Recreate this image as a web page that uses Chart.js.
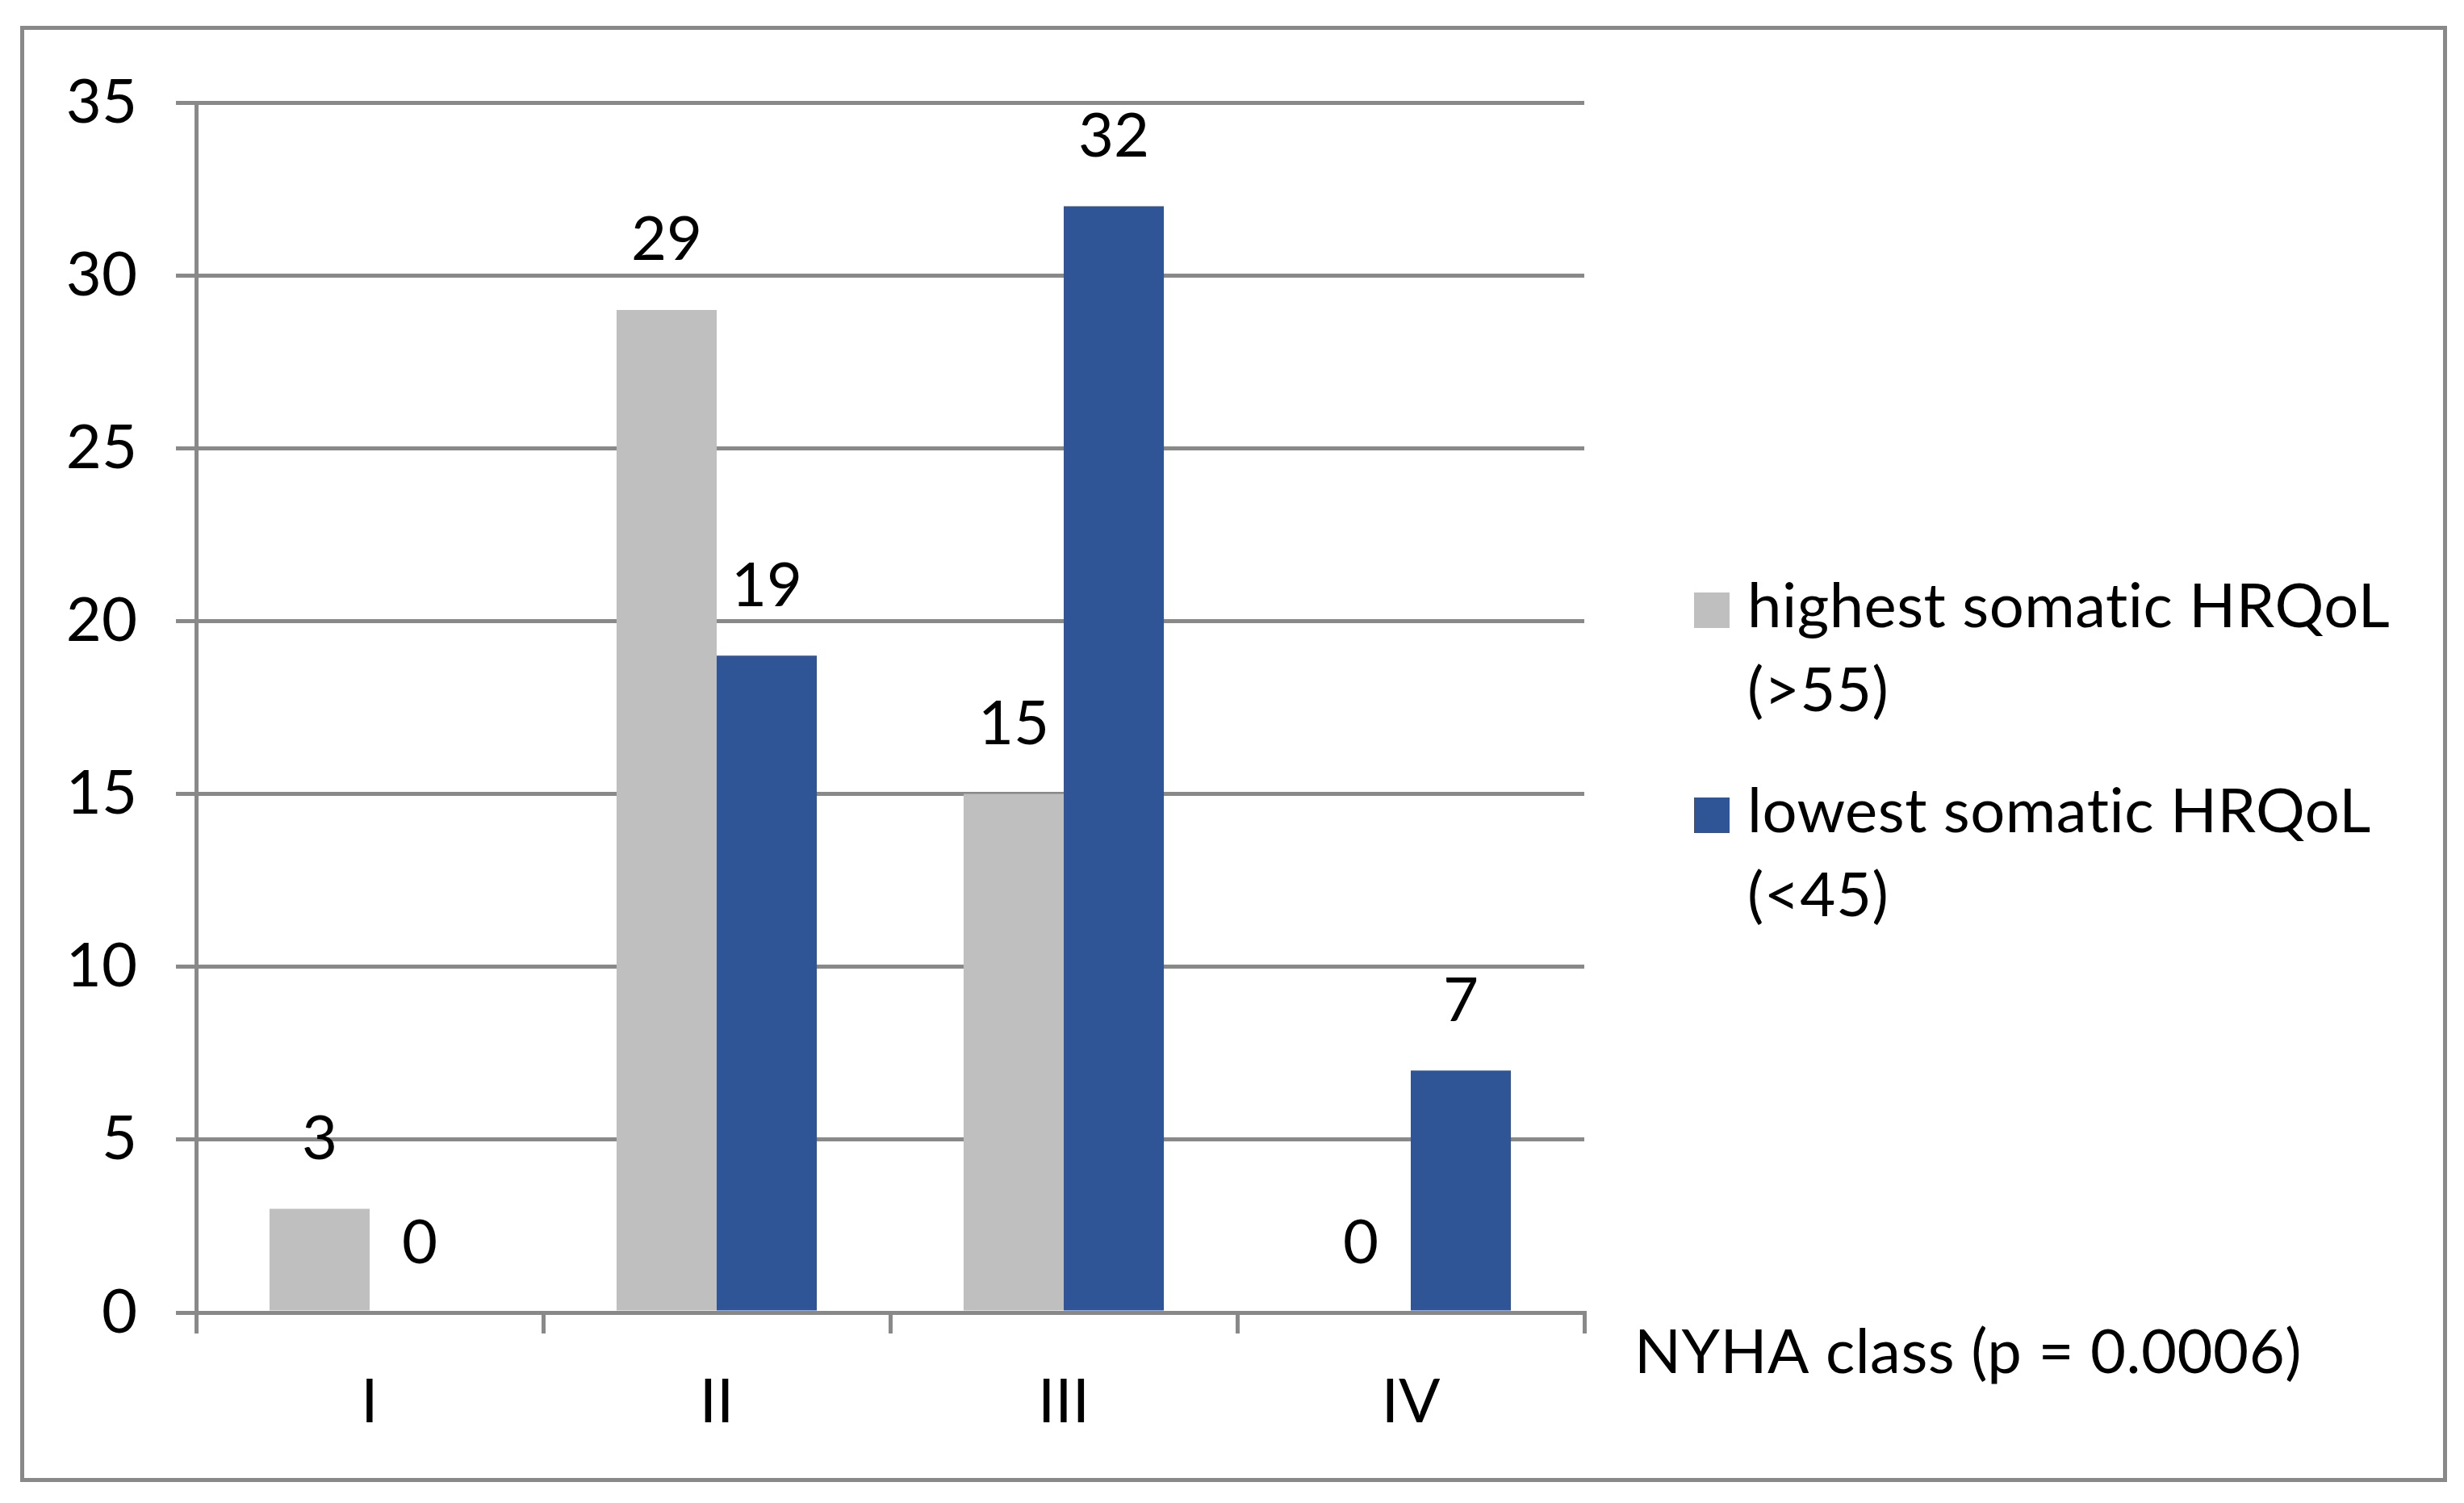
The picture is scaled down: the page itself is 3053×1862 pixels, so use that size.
<!DOCTYPE html>
<html>
<head>
<meta charset="utf-8">
<script src="https://cdn.jsdelivr.net/npm/chart.js@4.4.0/dist/chart.umd.min.js"></script>
<style>
  html, body { margin: 0; padding: 0; background: #fff; }
  #frame { position: absolute; left: 25px; top: 32px; width: 3007px; height: 1804px;
           border: 5px solid #898989; box-sizing: border-box; }
  #wrap { position: absolute; left: 0; top: 0; width: 3053px; height: 1862px; }
</style>
</head>
<body>
<div id="frame"></div>
<div id="wrap"><canvas id="myChart" width="3053" height="1862"></canvas></div>
<script>
// data
const classes = ["I", "II", "III", "IV"];
const highestHRQoL = [3, 29, 15, 0];
const lowestHRQoL = [0, 19, 32, 7];
const seriesLabels = [["highest somatic HRQoL", "(>55)"], ["lowest somatic HRQoL", "(<45)"]];
const yMin = 0, yMax = 35, yStep = 5;
const axisTitle = "NYHA class (p = 0.0006)";

const FONT = "Lato";
const FSIZE = 76;
const GRID = "#898989";
const colors = ["#BFBFBF", "#2F5597"];

// numbers above the bars
const valueLabels = {
  id: "valueLabels",
  afterDatasetsDraw(chart) {
    const ctx = chart.ctx;
    ctx.save();
    ctx.font = FSIZE + "px " + FONT;
    ctx.fillStyle = "#000";
    ctx.textAlign = "center";
    ctx.textBaseline = "middle";
    chart.data.datasets.forEach((ds, i) => {
      chart.getDatasetMeta(i).data.forEach((bar, j) => {
        ctx.fillText(String(ds.data[j]), bar.x, bar.y - 86);
      });
    });
    ctx.restore();
  }
};

// axis title to the right of the x axis + legend with wrapped labels
const extras = {
  id: "extras",
  afterDraw(chart) {
    const ctx = chart.ctx;
    const area = chart.chartArea;
    ctx.save();
    ctx.font = FSIZE + "px " + FONT;
    ctx.letterSpacing = "0.5px"; // keeps "ti" from turning into a ligature
    ctx.fillStyle = "#000";
    ctx.textAlign = "left";
    ctx.textBaseline = "middle";
    ctx.fillText(axisTitle, area.right + 62, area.bottom + 50);

    const mid = chart.height / 2;
    const lineH = 104, gap = 150;
    let y = mid - (lineH * 2 + gap) / 2;
    seriesLabels.forEach((lines, i) => {
      ctx.fillStyle = colors[i];
      ctx.fillRect(area.right + 136, y - 18, 44, 44);
      ctx.fillStyle = "#000";
      lines.forEach((t, k) => ctx.fillText(t, area.right + 202, y + k * lineH));
      y += lineH + gap;
    });
    ctx.restore();
  }
};

new Chart(document.getElementById("myChart"), {
  type: "bar",
  data: {
    labels: classes,
    datasets: [
      { label: seriesLabels[0].join(" "), data: highestHRQoL, backgroundColor: colors[0] },
      { label: seriesLabels[1].join(" "), data: lowestHRQoL, backgroundColor: colors[1] }
    ]
  },
  options: {
    responsive: false,
    animation: false,
    devicePixelRatio: 1,
    layout: { padding: { left: 0, right: 1090, top: 127, bottom: 0 } },
    datasets: { bar: { barPercentage: 1.0, categoryPercentage: 0.577 } },
    plugins: { legend: { display: false }, tooltip: { enabled: false } },
    scales: {
      x: {
        grid: { drawOnChartArea: false, drawTicks: true, tickLength: 26, color: GRID, lineWidth: 5 },
        border: { color: GRID, width: 5 },
        ticks: { color: "#000", font: { family: FONT, size: FSIZE }, padding: 40 },
        afterFit(scale) { scale.height = 236; }
      },
      y: {
        min: yMin, max: yMax,
        ticks: { stepSize: yStep, color: "#000", font: { family: FONT, size: FSIZE }, padding: 48 },
        grid: { color: GRID, lineWidth: 5, tickLength: 25 },
        border: { color: GRID, width: 5 },
        afterFit(scale) { scale.width = 243; }
      }
    }
  },
  plugins: [valueLabels, extras]
});
</script>
</body>
</html>
